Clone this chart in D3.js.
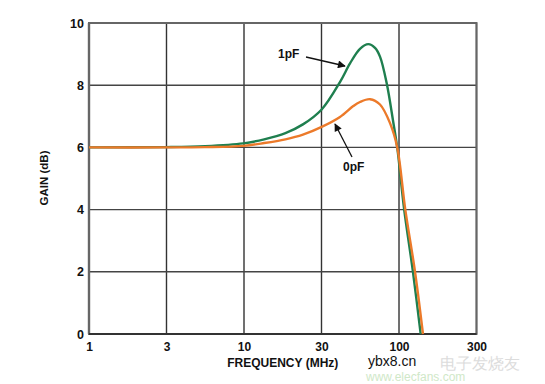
<!DOCTYPE html>
<html><head><meta charset="utf-8">
<script src="https://cdn.jsdelivr.net/npm/d3@7"></script>
<style>body{margin:0;background:#fff}svg{display:block}text{font-family:Arial,"Liberation Sans",Helvetica,sans-serif}</style>
</head><body>
<svg id="c" width="545" height="384"></svg>
<script>
// Frequency axis (MHz) – gridlines at half-decades, labelled 1,3,10,30,100,300
const xTickValues = [1, 3.162, 10, 31.62, 100, 316.2];
const xTickLabels = ["1", "3", "10", "30", "100", "300"];
const yTickValues = [0, 2, 4, 6, 8, 10];

// 1pF series
const freq1pF = [1, 3.16, 5.6, 9.9, 13.5, 18.5, 24, 31.7, 41.6, 48.3, 56, 63.4, 70, 75.4, 83.3, 91.9, 97.4, 108, 123, 138];
const gain1pF = [6.0, 6.01, 6.04, 6.13, 6.26, 6.46, 6.74, 7.22, 8.1, 8.7, 9.17, 9.32, 9.2, 8.92, 8.06, 6.8, 6.0, 4.0, 2.0, 0.0];
// 0pF series
const freq0pF = [1, 3.16, 5.6, 9.9, 13.5, 18.5, 24, 31.7, 41.6, 50.7, 56, 65, 75.4, 87.5, 97.4, 109.8, 126.9, 142.8];
const gain0pF = [6.0, 6.0, 6.01, 6.05, 6.14, 6.26, 6.41, 6.66, 6.98, 7.33, 7.46, 7.55, 7.38, 6.78, 6.0, 4.0, 2.0, 0.0];

const svg = d3.select("#c");
const L = 89, R = 476.5, T = 23, B = 334;
const x = d3.scaleLog().domain([1, 316.2]).range([L, R]);
const y = d3.scaleLinear().domain([0, 10]).range([B, T]);

// grid
const g = svg.append("g");
g.selectAll(".vx").data(xTickValues).enter().append("line")
  .attr("x1", d => x(d)).attr("x2", d => x(d)).attr("y1", T).attr("y2", B)
  .attr("stroke", "#333").attr("stroke-width", 1.4);
g.selectAll(".hy").data(yTickValues).enter().append("line")
  .attr("x1", L).attr("x2", R).attr("y1", d => y(d)).attr("y2", d => y(d))
  .attr("stroke", "#444").attr("stroke-width", 1.4);
// frame
svg.append("rect").attr("x", L).attr("y", T).attr("width", R - L).attr("height", B - T)
  .attr("fill", "none").attr("stroke", "#666").attr("stroke-width", 2);
svg.append("line").attr("x1", L).attr("x2", L).attr("y1", T).attr("y2", B)
  .attr("stroke", "#666").attr("stroke-width", 2.4);
svg.append("line").attr("x1", L).attr("x2", R).attr("y1", B).attr("y2", B)
  .attr("stroke", "#222").attr("stroke-width", 1.6);

// axes labels via d3 axes
const xAxis = d3.axisBottom(x).tickValues(xTickValues).tickSize(0).tickPadding(6)
  .tickFormat((d, i) => xTickLabels[i]);
const xa = svg.append("g").attr("transform", `translate(0,${B})`).call(xAxis);
xa.select(".domain").remove();
xa.selectAll("text").attr("font-size", 12).attr("font-weight", "bold").attr("fill", "#111")
  .attr("font-family", "Arial, Liberation Sans, sans-serif").attr("dy", "0.95em");

const yAxis = d3.axisLeft(y).tickValues(yTickValues).tickSize(0).tickPadding(5).tickFormat(d3.format("d"));
const ya = svg.append("g").attr("transform", `translate(${L},0)`).call(yAxis);
ya.select(".domain").remove();
ya.selectAll("text").attr("font-size", 12.5).attr("font-weight", "bold").attr("fill", "#111")
  .attr("font-family", "Arial, Liberation Sans, sans-serif");

svg.append("text").attr("x", (L + R) / 2).attr("y", 367).attr("text-anchor", "middle")
  .attr("font-size", 12).attr("font-weight", "bold").attr("fill", "#111").text("FREQUENCY (MHz)");
svg.append("text").attr("transform", "translate(48,178) rotate(-90)").attr("text-anchor", "middle")
  .attr("font-size", 11.5).attr("font-weight", "bold").attr("fill", "#111").text("GAIN (dB)");

// curves
const line = d3.line().curve(d3.curveCatmullRom.alpha(0.5));
const pts1 = freq1pF.map((f, i) => [x(f), y(gain1pF[i])]);
const pts0 = freq0pF.map((f, i) => [x(f), y(gain0pF[i])]);
svg.append("path").attr("d", line(pts1)).attr("fill", "none").attr("stroke", "#1f7f4f").attr("stroke-width", 2.4);
svg.append("path").attr("d", line(pts0)).attr("fill", "none").attr("stroke", "#ec7a2a").attr("stroke-width", 2.4);

// annotations
svg.append("defs").append("marker").attr("id", "ah").attr("viewBox", "0 0 10 10")
  .attr("refX", 9).attr("refY", 5).attr("markerWidth", 8).attr("markerHeight", 6).attr("orient", "auto")
  .append("path").attr("d", "M0,0 L10,5 L0,10 Z").attr("fill", "#111");
svg.append("text").attr("x", 278).attr("y", 58).attr("font-size", 12).attr("font-weight", "bold").attr("fill", "#111").text("1pF");
svg.append("line").attr("x1", 306).attr("y1", 57).attr("x2", 345).attr("y2", 66)
  .attr("stroke", "#111").attr("stroke-width", 1.3).attr("marker-end", "url(#ah)");
svg.append("text").attr("x", 343).attr("y", 171).attr("font-size", 12).attr("font-weight", "bold").attr("fill", "#111").text("0pF");
svg.append("line").attr("x1", 352).attr("y1", 157).attr("x2", 335).attr("y2", 124)
  .attr("stroke", "#111").attr("stroke-width", 1.3).attr("marker-end", "url(#ah)");

// watermarks
svg.append("text").attr("x", 440).attr("y", 369).attr("font-size", 16).attr("fill", "#dcdcdc")
  .attr("font-family", "Noto Sans CJK SC").text("电子发烧友");
svg.append("text").attr("x", 366).attr("y", 381).attr("font-size", 12).attr("fill", "#cfe8c8").text("www.elecfans.com");
svg.append("text").attr("x", 368).attr("y", 366).attr("font-size", 14).attr("fill", "#111")
  .attr("font-family", "DejaVu Sans").text("ybx8.cn");
</script>
</body></html>
